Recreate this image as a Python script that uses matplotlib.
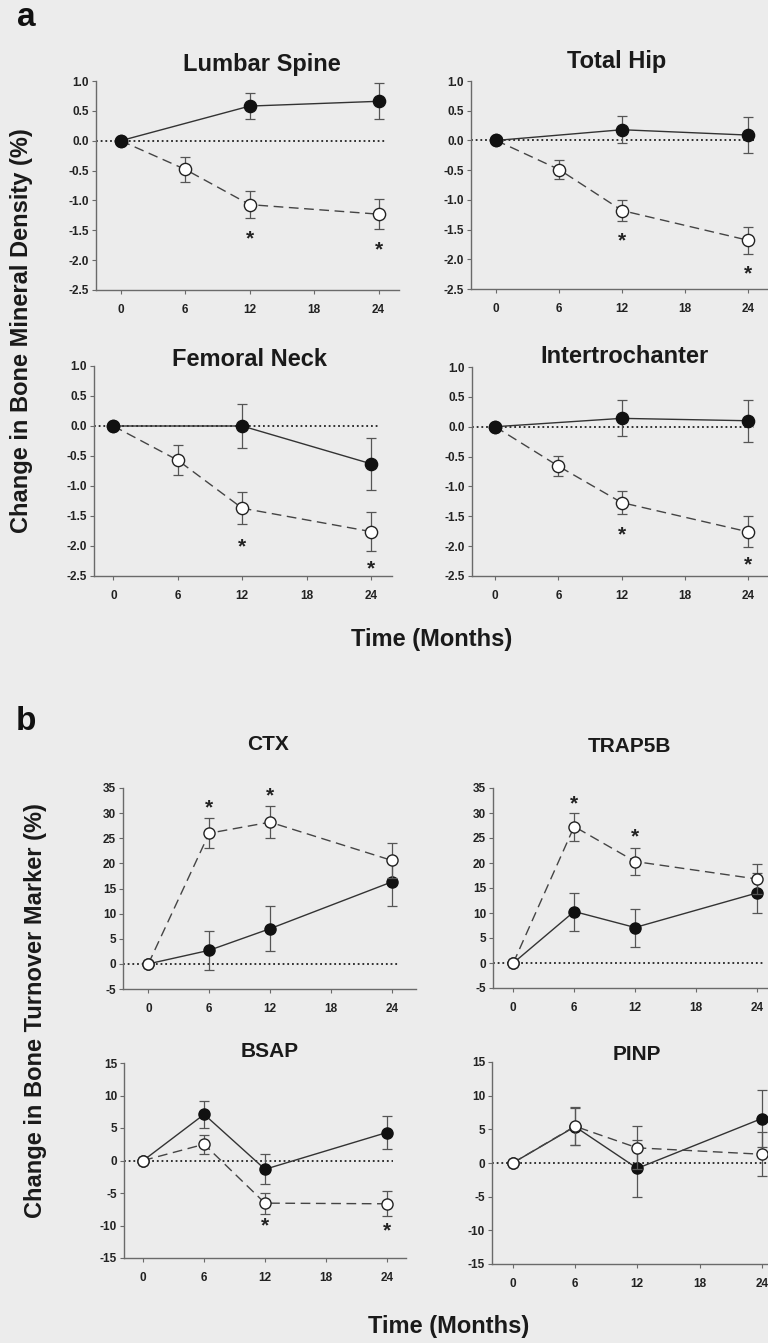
import matplotlib
matplotlib.use("Agg")
import matplotlib.pyplot as plt

# ---------------- data ----------------
months_a_filled = [0, 12, 24]
months_a_open = [0, 6, 12, 24]
months_b = [0, 6, 12, 24]

lumbar_filled = [0.0, 0.58, 0.66]
lumbar_filled_err = [0.0, 0.22, 0.30]
lumbar_open = [0.0, -0.48, -1.07, -1.23]
lumbar_open_err = [0.0, 0.21, 0.22, 0.25]
lumbar_stars_x = [12, 24]
lumbar_stars_y = [-1.55, -1.73]

hip_filled = [0.0, 0.18, 0.09]
hip_filled_err = [0.0, 0.23, 0.30]
hip_open = [0.0, -0.49, -1.18, -1.68]
hip_open_err = [0.0, 0.16, 0.17, 0.23]
hip_stars_x = [12, 24]
hip_stars_y = [-1.60, -2.15]

neck_filled = [0.0, 0.0, -0.63]
neck_filled_err = [0.0, 0.37, 0.43]
neck_open = [0.0, -0.57, -1.37, -1.76]
neck_open_err = [0.0, 0.25, 0.27, 0.33]
neck_stars_x = [12, 24]
neck_stars_y = [-1.92, -2.29]

inter_filled = [0.0, 0.14, 0.10]
inter_filled_err = [0.0, 0.30, 0.35]
inter_open = [0.0, -0.66, -1.27, -1.76]
inter_open_err = [0.0, 0.17, 0.20, 0.26]
inter_stars_x = [12, 24]
inter_stars_y = [-1.72, -2.22]

ctx_filled = [0.0, 2.7, 7.0, 16.3]
ctx_filled_err = [0.0, 3.9, 4.5, 4.7]
ctx_open = [0.0, 26.0, 28.2, 20.6]
ctx_open_err = [0.0, 3.0, 3.2, 3.5]
ctx_stars_x = [6, 12]
ctx_stars_y = [32.1, 34.5]

trap_filled = [0.0, 10.3, 7.1, 14.0]
trap_filled_err = [0.0, 3.8, 3.8, 4.0]
trap_open = [0.0, 27.3, 20.3, 16.8]
trap_open_err = [0.0, 2.8, 2.7, 3.0]
trap_stars_x = [6, 12]
trap_stars_y = [33.0, 26.3]

bsap_filled = [0.0, 7.1, -1.35, 4.3]
bsap_filled_err = [0.0, 2.1, 2.3, 2.5]
bsap_open = [0.0, 2.5, -6.56, -6.66]
bsap_open_err = [0.0, 1.5, 1.6, 1.95]
bsap_stars_x = [12, 24]
bsap_stars_y = [-9.2, -10.0]

pinp_filled = [0.0, 5.4, -0.8, 6.6]
pinp_filled_err = [0.0, 2.8, 4.2, 4.2]
pinp_open = [0.0, 5.46, 2.25, 1.3]
pinp_open_err = [0.0, 2.8, 3.2, 3.3]
pinp_stars_x = []
pinp_stars_y = []

titles_a = ["Lumbar Spine", "Total Hip", "Femoral Neck", "Intertrochanter"]
titles_b = ["CTX", "TRAP5B", "BSAP", "PINP"]
xticks = [0, 6, 12, 18, 24]
yticks_a = [1.0, 0.5, 0.0, -0.5, -1.0, -1.5, -2.0, -2.5]
yticks_b_top = [35, 30, 25, 20, 15, 10, 5, 0, -5]
yticks_b_bot = [15, 10, 5, 0, -5, -10, -15]

# ---------------- style ----------------
W, H = 768, 1343
BG = "#ececec"
FONT = "Liberation Sans"
plt.rcParams["font.family"] = [FONT, "DejaVu Sans"]
plt.rcParams["font.weight"] = "bold"

fig = plt.figure(figsize=(W / 100, H / 100), dpi=100, facecolor=BG)


def px_axes(x0, x1, ytop, ybot):
    return fig.add_axes([x0 / W, 1 - ybot / H, (x1 - x0) / W, (ybot - ytop) / H])


def style_axes(ax, xlim, ylim, yticks, yfmt):
    ax.set_facecolor("none")
    ax.set_xlim(*xlim)
    ax.set_ylim(*ylim)
    for s in ("top", "right"):
        ax.spines[s].set_visible(False)
    for s in ("left", "bottom"):
        ax.spines[s].set_color("#6a6a6a")
        ax.spines[s].set_linewidth(1.0)
    ax.set_xticks(xticks)
    ax.set_xticklabels([str(t) for t in xticks], fontsize=8.5, fontweight="bold", color="#222222")
    ax.set_yticks(yticks)
    ax.set_yticklabels([yfmt.format(t) for t in yticks], fontsize=8.5, fontweight="bold", color="#222222")
    ax.tick_params(axis="both", direction="out", length=3, width=0.8, color="#6a6a6a")
    ax.tick_params(axis="x", pad=7)
    ax.tick_params(axis="y", pad=2)


def draw(ax, xf, yf, ef, xo, yo, eo, sx, sy, msize, filled_on_top, star_fs, star_off):
    x_left = ax.get_xlim()[0]
    ax.plot([x_left, 24.6], [0, 0], linestyle=(0, (1, 1.6)), color="#222222", lw=1.3, zorder=1)
    zf = 4 if filled_on_top else 3
    zo = 3 if filled_on_top else 4
    ax.errorbar(xo, yo, yerr=eo, fmt="none", ecolor="#555555", elinewidth=0.9,
                capsize=3.5, capthick=0.9, zorder=zo - 0.5)
    ax.plot(xo, yo, linestyle=(0, (7, 4)), color="#444444", lw=1.0, zorder=zo - 0.4)
    ax.plot(xo, yo, linestyle="none", marker="o", markersize=msize, markerfacecolor="white",
            markeredgecolor="#222222", markeredgewidth=1.0, zorder=zo)
    ax.errorbar(xf, yf, yerr=ef, fmt="none", ecolor="#555555", elinewidth=0.9,
                capsize=3.5, capthick=0.9, zorder=zf - 0.5)
    ax.plot(xf, yf, linestyle="-", color="#333333", lw=1.0, zorder=zf - 0.4)
    ax.plot(xf, yf, linestyle="none", marker="o", markersize=msize, markerfacecolor="#111111",
            markeredgecolor="#111111", markeredgewidth=1.0, zorder=zf)
    for x, y in zip(sx, sy):
        ax.annotate("*", (x, y), xytext=(0, star_off), textcoords="offset points",
                    ha="center", va="baseline", fontsize=star_fs, fontweight="bold",
                    color="#222222")


# ---------------- panel a ----------------
boxes_a = [(96, 399, 81, 290, (-2.3, 25.9)),
           (471, 768, 81, 289, (-2.4, 25.9)),
           (94, 392, 366, 576, (-1.8, 25.95)),
           (472, 768, 367, 576, (-2.2, 25.9))]
data_a = [
    (lumbar_filled, lumbar_filled_err, lumbar_open, lumbar_open_err, lumbar_stars_x, lumbar_stars_y),
    (hip_filled, hip_filled_err, hip_open, hip_open_err, hip_stars_x, hip_stars_y),
    (neck_filled, neck_filled_err, neck_open, neck_open_err, neck_stars_x, neck_stars_y),
    (inter_filled, inter_filled_err, inter_open, inter_open_err, inter_stars_x, inter_stars_y),
]
title_pos_a = [(262, 71), (617, 68), (250, 366), (624, 363)]
for (x0, x1, yt, yb, xl), d, t, tp in zip(boxes_a, data_a, titles_a, title_pos_a):
    ax = px_axes(x0, x1, yt, yb)
    style_axes(ax, xl, (-2.5, 1.0), yticks_a, "{:.1f}")
    draw(ax, months_a_filled, d[0], d[1], months_a_open, d[2], d[3], d[4], d[5],
         8.8, True, 15, -8)
    fig.text(tp[0] / W, 1 - tp[1] / H, t, ha="center", va="baseline",
             fontsize=17, fontweight="bold", color="#1a1a1a")

# ---------------- panel b ----------------
boxes_b = [(123, 416, 788, 989, (-2.5, 26.4), (-5, 35), yticks_b_top),
           (493, 768, 788, 988, (-2.0, 25.1), (-5, 35), yticks_b_top),
           (124, 406, 1063, 1258, (-1.9, 25.9), (-15, 15), yticks_b_bot),
           (492, 768, 1062, 1264, (-2.0, 24.6), (-15, 15), yticks_b_bot)]
data_b = [
    (ctx_filled, ctx_filled_err, ctx_open, ctx_open_err, ctx_stars_x, ctx_stars_y),
    (trap_filled, trap_filled_err, trap_open, trap_open_err, trap_stars_x, trap_stars_y),
    (bsap_filled, bsap_filled_err, bsap_open, bsap_open_err, bsap_stars_x, bsap_stars_y),
    (pinp_filled, pinp_filled_err, pinp_open, pinp_open_err, pinp_stars_x, pinp_stars_y),
]
title_pos_b = [(268, 750), (629, 752), (270, 1057), (637, 1060)]
for (x0, x1, yt, yb, xl, yl, yt_), d, t, tp in zip(boxes_b, data_b, titles_b, title_pos_b):
    ax = px_axes(x0, x1, yt, yb)
    style_axes(ax, xl, yl, yt_, "{:d}")
    draw(ax, months_b, d[0], d[1], months_b, d[2], d[3], d[4], d[5],
         8.0, False, 15, -8)
    fig.text(tp[0] / W, 1 - tp[1] / H, t, ha="center", va="baseline",
             fontsize=15, fontweight="bold", color="#1a1a1a")

# ---------------- labels ----------------
fig.text(26 / W, 1 - 17 / H, "a", ha="center", va="center", fontsize=24, fontweight="bold", color="#111111")
fig.text(26 / W, 1 - 722 / H, "b", ha="center", va="center", fontsize=24, fontweight="bold", color="#111111")
fig.text(432 / W, 1 - 646 / H, "Time (Months)", ha="center", va="baseline", fontsize=17,
         fontweight="bold", color="#1a1a1a")
fig.text(449 / W, 1 - 1333 / H, "Time (Months)", ha="center", va="baseline", fontsize=17,
         fontweight="bold", color="#1a1a1a")
fig.text(22 / W, 1 - 331 / H, "Change in Bone Mineral Density (%)", ha="center", va="center",
         rotation=90, fontsize=17, fontweight="bold", color="#1a1a1a")
fig.text(36 / W, 1 - 1011 / H, "Change in Bone Turnover Marker (%)", ha="center", va="center",
         rotation=90, fontsize=17, fontweight="bold", color="#1a1a1a")

fig.savefig("out.png", dpi=100, facecolor=BG)
